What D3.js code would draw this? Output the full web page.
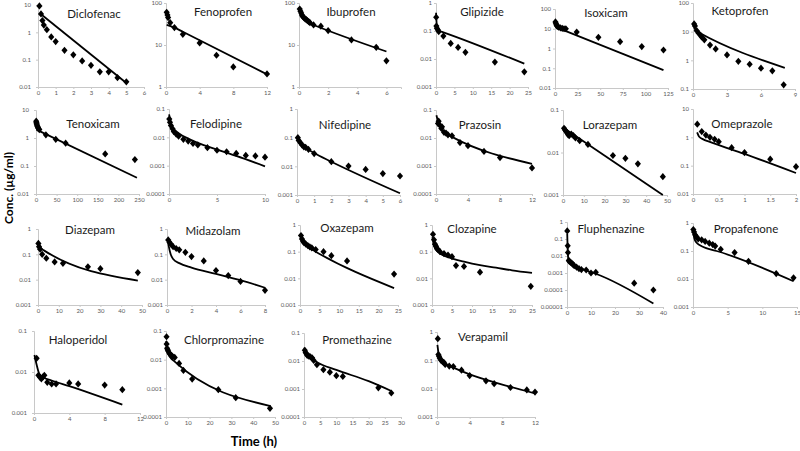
<!DOCTYPE html>
<html><head><meta charset="utf-8">
<script src="https://cdn.jsdelivr.net/npm/d3@7"></script>
<style>
html,body{margin:0;padding:0;background:#fff;}
svg{display:block;}
</style></head>
<body>
<svg id="chart" width="800" height="451"></svg>
<script>
// ---------------- DATA ----------------
const drugs = ["Diclofenac","Fenoprofen","Ibuprofen","Glipizide","Isoxicam","Ketoprofen",
  "Tenoxicam","Felodipine","Nifedipine","Prazosin","Lorazepam","Omeprazole",
  "Diazepam","Midazolam","Oxazepam","Clozapine","Fluphenazine","Propafenone",
  "Haloperidol","Chlorpromazine","Promethazine","Verapamil"];

const xMax  = [6,12,7,25,125,9, 250,10,6,12,50,2, 50,8,25,25,40,15, 12,50,30,12];
const xStep = [1,4,2,5,25,3, 50,5,1,4,10,0.5, 10,2,5,5,10,5, 4,10,5,4];
const yMin  = [0.01,1,1,0.001,0.01,0.1, 0.01,0.0001,0.001,0.0001,0.001,0.01,
  0.001,0.001,0.001,0.001,0.00001,0.001, 0.001,0.0001,0.0001,0.001];
const yMax  = [10,100,100,1,100,100, 10,0.1,1,0.1,0.1,10, 1,1,1,1,1,1, 0.1,0.1,0.1,1];

// observed [time (h), conc (ug/ml)]
const obsDiclofenac = [[0.08,9.2],[0.17,4.7],[0.25,2.7],[0.33,1.85],[0.5,1.25],[0.75,0.68],[1,0.46],[1.5,0.22],[2,0.15],[2.5,0.09],[3,0.062],[3.5,0.036],[4,0.036],[4.5,0.022],[5,0.0155]];
const obsFenoprofen = [[0.08,60],[0.17,52],[0.25,45],[0.5,34],[1,26],[2,18],[4,11.2],[6,5.7],[8,3.0],[12,2.05]];
const obsIbuprofen = [[0.05,72],[0.1,64],[0.15,58],[0.2,52],[0.25,48],[0.33,45],[0.42,42],[0.5,40],[0.58,38],[0.67,36],[0.75,34],[1,30],[1.5,28],[2,22],[3.6,13.2],[5.3,8.8],[6,4.2]];
const obsGlipizide = [[0.05,0.31],[0.1,0.15],[0.25,0.125],[0.5,0.11],[0.75,0.095],[2,0.066],[4,0.036],[6,0.026],[8,0.0173],[16,0.0078],[24,0.0035]];
const obsIsoxicam = [[0.5,22],[1,19],[1.5,16],[2,14],[3,13],[4,12],[6,11],[8,10.5],[10,10],[12,10],[24,6.8],[48,3.7],[72,2.2],[96,1.25],[120,0.84]];
const obsKetoprofen = [[0.1,18.6],[0.17,15.8],[0.33,10.8],[0.5,8.8],[0.67,7.5],[0.75,6.6],[1,5.2],[1.5,3.4],[2,2.5],[3,1.55],[4,0.92],[5,0.73],[6,0.53],[7,0.43],[8,0.14]];
const obsTenoxicam = [[0.5,4.0],[1,3.6],[1.5,3.3],[2,3.0],[3,2.7],[4,2.5],[5,2.3],[6,2.2],[8,2.0],[24,1.3],[48,0.9],[72,0.65],[168,0.27],[240,0.17]];
const obsFelodipine = [[0.03,0.044],[0.1,0.034],[0.2,0.026],[0.37,0.02],[0.5,0.016],[0.75,0.013],[1,0.011],[1.5,0.0085],[2,0.0074],[2.5,0.0061],[3,0.0054],[4,0.0043],[5,0.0035],[6,0.0031],[7,0.0027],[8,0.0023],[9,0.0022],[10,0.002]];
const obsNifedipine = [[0.05,0.1],[0.1,0.08],[0.2,0.066],[0.3,0.055],[0.4,0.048],[0.5,0.046],[0.67,0.039],[1,0.028],[2,0.0145],[3,0.0102],[4,0.0078],[5,0.0056],[6,0.0046]];
const obsPrazosin = [[0.25,0.033],[0.33,0.04],[0.5,0.028],[0.67,0.022],[0.75,0.025],[1,0.016],[1.25,0.015],[1.5,0.013],[2,0.012],[3,0.0069],[4,0.0053],[6,0.0033],[8,0.002],[12,0.00085]];
const obsLorazepam = [[0.5,0.037],[1,0.034],[1.5,0.031],[2,0.029],[2.5,0.026],[3,0.025],[4,0.027],[5,0.025],[6,0.022],[8,0.019],[12,0.0155],[24,0.0085],[30,0.0073],[36,0.0054],[48,0.0027]];
const obsOmeprazole = [[0.083,2.9],[0.17,1.6],[0.25,1.2],[0.33,1.0],[0.42,0.85],[0.5,0.7],[0.75,0.43],[1,0.29],[1.5,0.17],[2,0.092]];
const obsDiazepam = [[0.2,0.27],[0.5,0.2],[1,0.16],[2,0.1],[4,0.07],[8,0.05],[12,0.044],[24,0.032],[30,0.027],[48,0.019]];
const obsMidazolam = [[0.1,0.37],[0.2,0.3],[0.33,0.25],[0.5,0.2],[0.75,0.17],[1,0.15],[1.5,0.12],[2,0.082],[3,0.055],[4,0.023],[5,0.0145],[6,0.0085],[8,0.0038]];
const obsOxazepam = [[0.25,0.4],[0.5,0.3],[0.75,0.25],[1,0.22],[1.5,0.19],[2,0.17],[2.5,0.15],[3,0.14],[4,0.12],[6,0.1],[8,0.071],[12,0.045],[24,0.0145]];
const obsClozapine = [[0.25,0.45],[0.5,0.28],[0.75,0.19],[1,0.16],[1.25,0.13],[1.5,0.12],[2,0.1],[3,0.085],[4,0.075],[5,0.065],[6,0.03],[8,0.028],[12,0.017],[24.7,0.005]];
const obsFluphenazine = [[0.1,0.3],[0.3,0.04],[0.4,0.016],[0.75,0.0055],[1,0.0048],[1.5,0.0042],[2,0.0038],[2.5,0.0032],[3,0.0027],[4,0.0022],[5,0.0018],[6,0.0016],[8,0.0015],[10,0.001],[12,0.0011],[28,0.00025],[36,0.0001]];
const obsPropafenone = [[0.05,0.58],[0.15,0.48],[0.3,0.38],[0.5,0.32],[0.75,0.27],[1.25,0.25],[1.75,0.22],[2.35,0.19],[2.85,0.17],[3.2,0.15],[4,0.115],[6,0.088],[8,0.043],[12,0.0156],[14.5,0.011]];
const obsHaloperidol = [[0.3,0.0215],[0.5,0.0083],[0.67,0.0075],[0.83,0.0068],[1,0.0075],[1.17,0.0083],[1.5,0.0056],[2,0.0051],[2.5,0.0051],[4,0.0054],[5,0.0051],[8,0.0048],[10,0.0037]];
const obsChlorpromazine = [[0.25,0.063],[0.3,0.035],[0.5,0.025],[0.75,0.022],[1,0.02],[1.5,0.017],[2,0.015],[2.5,0.014],[3,0.013],[4,0.012],[6,0.0074],[8,0.0042],[12,0.0021],[24,0.0009],[32,0.00047],[47.7,0.0002]];
const obsPromethazine = [[0.25,0.024],[0.5,0.02],[0.75,0.018],[1,0.016],[1.5,0.015],[2,0.014],[2.5,0.013],[3,0.0105],[4,0.0074],[6,0.0049],[8,0.004],[10,0.003],[12,0.0028],[23,0.0011],[27,0.00072]];
const obsVerapamil = [[0.1,0.58],[0.17,0.16],[0.25,0.14],[0.33,0.12],[0.5,0.1],[0.67,0.09],[0.83,0.085],[1,0.072],[1.5,0.063],[2,0.06],[3,0.045],[4,0.029],[6,0.019],[7,0.015],[9,0.011],[11,0.009],[12,0.0076]];

// predicted profiles [time (h), conc (ug/ml)]
const predDiclofenac = [[0.1,5.0],[5,0.014]];
const predFenoprofen = [[0.08,30],[1,26],[2,20.6],[12,2.0]];
const predIbuprofen = [[0.02,80],[0.15,55],[0.4,40],[0.8,32],[1,30],[6,7.0]];
const predGlipizide = [[0.02,0.45],[0.2,0.17],[0.5,0.12],[1,0.1],[2,0.09],[24,0.0068]];
const predIsoxicam = [[1,12],[120,0.08]];
const predKetoprofen = [[0.1,14],[0.3,10.5],[0.6,9],[8.1,0.55]];
const predTenoxicam = [[1,2.0],[245,0.038]];
const predFelodipine = [[0.01,0.065],[0.2,0.032],[0.5,0.02],[1,0.014],[2,0.009],[3,0.0064],[5,0.0037],[7,0.0022],[10,0.00095]];
const predNifedipine = [[0.05,0.09],[0.5,0.045],[1,0.029],[2,0.0145],[6,0.00115]];
const predPrazosin = [[0.05,0.065],[0.3,0.035],[0.6,0.022],[1,0.016],[2,0.011],[12,0.0012]];
const predLorazepam = [[0.2,0.038],[48,0.001]];
const predOmeprazole = [[0.08,1.5],[0.12,1.05],[0.2,0.85],[0.3,0.72],[1,0.26],[2,0.055]];
const predDiazepam = [[0.3,0.3],[1,0.19],[3,0.14],[48,0.0092]];
const predMidazolam = [[0.05,0.4],[0.15,0.2],[0.3,0.1],[0.5,0.065],[1,0.045],[2,0.03],[4,0.017],[6,0.0095],[8,0.0048]];
const predOxazepam = [[0.1,0.42],[0.5,0.28],[1,0.2],[2,0.15],[4,0.1],[24,0.0043]];
const predClozapine = [[0.1,0.35],[0.5,0.17],[1,0.12],[2,0.085],[4,0.062],[8,0.042],[12,0.031],[16,0.025],[20,0.02],[25,0.016]];
const predFluphenazine = [[0.1,0.2],[0.25,0.03],[0.5,0.008],[1,0.005],[2,0.0035],[4,0.0024],[8,0.0014],[12,0.0009],[36,0.000016]];
const predPropafenone = [[0.05,0.5],[0.2,0.28],[0.5,0.2],[1,0.16],[2,0.125],[3.4,0.1],[14.5,0.0083]];
const predHaloperidol = [[0.05,0.026],[0.3,0.015],[0.6,0.009],[1,0.0075],[2,0.0062],[4,0.0045],[10,0.0016]];
const predChlorpromazine = [[0.1,0.045],[0.5,0.022],[1,0.016],[2,0.012],[4,0.0085],[48,0.00024]];
const predPromethazine = [[0.1,0.03],[0.5,0.02],[1,0.016],[2,0.013],[4,0.009],[10,0.0048],[20,0.0019],[27,0.00085]];
const predVerapamil = [[0.05,0.35],[0.2,0.17],[0.5,0.1],[1,0.075],[2,0.055],[4,0.032],[8,0.014],[12,0.0068]];

const observed = [obsDiclofenac,obsFenoprofen,obsIbuprofen,obsGlipizide,obsIsoxicam,obsKetoprofen,
  obsTenoxicam,obsFelodipine,obsNifedipine,obsPrazosin,obsLorazepam,obsOmeprazole,
  obsDiazepam,obsMidazolam,obsOxazepam,obsClozapine,obsFluphenazine,obsPropafenone,
  obsHaloperidol,obsChlorpromazine,obsPromethazine,obsVerapamil];
const predicted = [predDiclofenac,predFenoprofen,predIbuprofen,predGlipizide,predIsoxicam,predKetoprofen,
  predTenoxicam,predFelodipine,predNifedipine,predPrazosin,predLorazepam,predOmeprazole,
  predDiazepam,predMidazolam,predOxazepam,predClozapine,predFluphenazine,predPropafenone,
  predHaloperidol,predChlorpromazine,predPromethazine,predVerapamil];

const yAxisTitle = "Conc. (µg/ml)";
const xAxisTitle = "Time (h)";

// ---------------- LAYOUT (pixels) ----------------
// plot frame per panel: [left, right, top, bottom]
const frames = [
  [38,144,5,87],[166,267,3,87],[299,401,3,87],[436,528,3,87],[555,668,9,88],[693,795,3,89],
  [36,139,110,194],[169,265,109,194],[297,400,109,195],[436,532,110,194],[563,667,110,195],[693,796,109,194],
  [38,142,229,305],[167,265,229,305],[300,398,225,305],[432,532,225,305],[567,663,222,307],[693,797,223,307],
  [34,140,331,413],[166,275,331,417],[304,401,333,417],[437,535,332,417]];
// panel title centre
const titlePos = [
  [94,15],[223,13],[351,13],[482,13],[606,14],[740,12],
  [93,125],[216,125],[345,126],[480,126],[610,126],[742,125],
  [90,231],[213,232],[347,229],[472,230],[611,230],[746,230],
  [78,341],[224,341],[357,341],[483,338]];

const svg = d3.select("#chart");
const fmt = v => String(+v.toPrecision(6));
const axisColor = "#c8c8c8";
const labelColor = "#595959";
const fontFam = "Lato, 'Open Sans', sans-serif";

// diamond marker slightly wider than d3's default diamond
const wideDiamond = {
  draw(ctx, size) {
    const h = Math.sqrt(size) * 0.62, w = h * 0.85;
    ctx.moveTo(0, -h); ctx.lineTo(w, 0); ctx.lineTo(0, h); ctx.lineTo(-w, 0); ctx.closePath();
  }
};

drugs.forEach((name, i) => {
  const [l, r, t, b] = frames[i];
  const x = d3.scaleLinear().domain([0, xMax[i]]).range([l, r]);
  const y = d3.scaleLog().domain([yMin[i], yMax[i]]).range([b, t]);
  const g = svg.append("g");
  const leftCol = (i % 6 === 0);

  const xt = d3.range(0, xMax[i] + 1e-9, xStep[i]);
  const yt = [];
  for (let e = Math.round(Math.log10(yMin[i])); e <= Math.round(Math.log10(yMax[i])); e++) yt.push(Math.pow(10, e));

  const gx = g.append("g").attr("transform", `translate(0,${b})`)
    .call(d3.axisBottom(x).tickValues(xt).tickFormat(fmt).tickSize(2).tickPadding(2));
  const gy = g.append("g").attr("transform", `translate(${l},0)`)
    .call(d3.axisLeft(y).tickValues(yt).tickFormat(fmt).tickSize(2).tickPadding(leftCol ? 5 : 2));
  [gx, gy].forEach(a => {
    a.select(".domain").attr("stroke", axisColor).attr("stroke-width", 1);
    a.selectAll(".tick line").attr("stroke", axisColor);
    a.selectAll(".tick text").attr("fill", labelColor)
      .style("font-family", fontFam).style("font-size", "6px");
  });

  // predicted line
  g.append("path")
    .datum(predicted[i])
    .attr("fill", "none")
    .attr("stroke", "#000")
    .attr("stroke-width", 1.8)
    .attr("stroke-linejoin", "round")
    .attr("d", d3.line().x(d => x(d[0])).y(d => y(d[1])).curve(d3.curveMonotoneX));

  // observed diamonds
  g.selectAll("path.pt").data(observed[i]).enter().append("path")
    .attr("class", "pt")
    .attr("transform", d => `translate(${x(d[0])},${y(d[1])})`)
    .attr("d", d3.symbol().type(wideDiamond).size(34))
    .attr("fill", "#000");

  g.append("text")
    .attr("x", titlePos[i][0]).attr("y", titlePos[i][1])
    .attr("text-anchor", "middle").attr("dominant-baseline", "middle")
    .style("font-family", fontFam).style("font-size", "11.5px")
    .attr("fill", "#1a1a1a")
    .text(name);
});

svg.append("text")
  .attr("transform", "translate(10,188) rotate(-90)")
  .attr("text-anchor", "middle").attr("dominant-baseline", "middle")
  .style("font-family", fontFam).style("font-size", "12px").style("font-weight", "bold")
  .text(yAxisTitle);
svg.append("text")
  .attr("x", 254).attr("y", 443)
  .attr("text-anchor", "middle").attr("dominant-baseline", "middle")
  .style("font-family", fontFam).style("font-size", "13px").style("font-weight", "bold")
  .text(xAxisTitle);
</script>
</body></html>
